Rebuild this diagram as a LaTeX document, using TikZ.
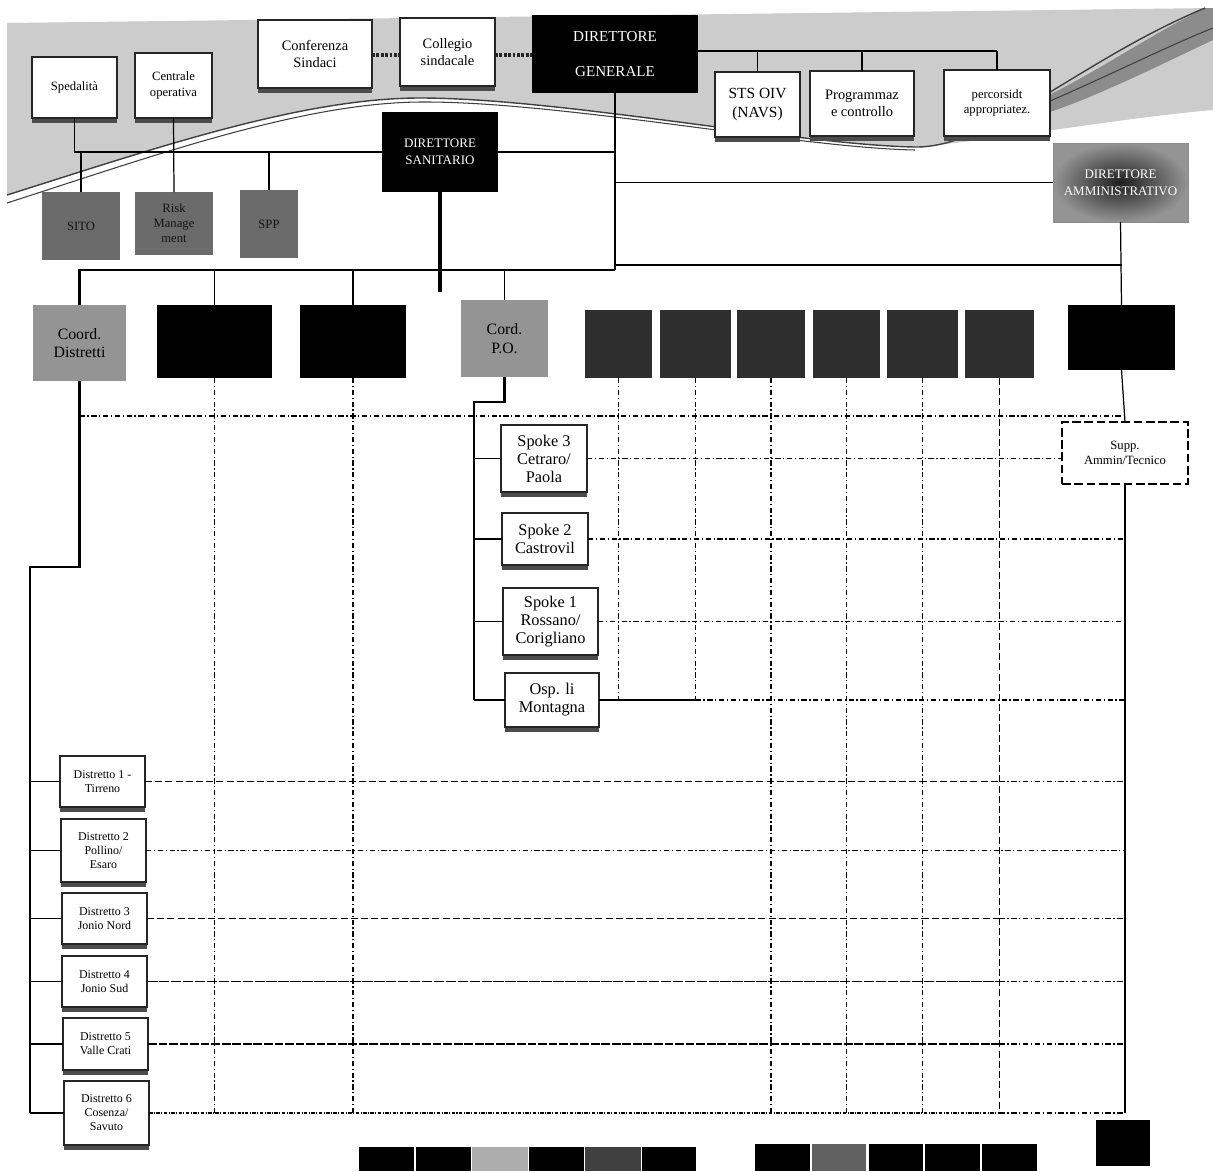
\documentclass[tikz,border=0pt]{standalone}
\usepackage{fontspec}
\setmainfont{Liberation Serif}
\usetikzlibrary{shadows}
\newcommand\szA{\fontsize{7.2}{8.6}\selectfont}
\newcommand\szB{\fontsize{8.2}{10}\selectfont}
\newcommand\szC{\fontsize{8.8}{10.5}\selectfont}
\newcommand\szD{\fontsize{8.6}{10}\selectfont}
\newcommand\szE{\fontsize{7.4}{9.5}\selectfont}
\newcommand\szF{\fontsize{9}{10.5}\selectfont}
\newcommand\szG{\fontsize{9.3}{10.2}\selectfont}
\newcommand\szH{\fontsize{6.8}{8}\selectfont}
\newcommand{\bx}[7]{%
  \pgfmathsetmacro{\bxw}{(#4-#2)*0.02}%
  \pgfmathsetmacro{\bxh}{(#5-#3)*0.02}%
  \node[#6, minimum width=\bxw cm, minimum height=\bxh cm] (#1) at ({(#2+#4)/2},{(#3+#5)/2}) {#7};}
\tikzset{
  base/.style={inner sep=0pt, outer sep=0pt, align=center},
  wbox/.style={base, draw=black!85, line width=0.7pt, fill=white,
    drop shadow={shadow xshift=0.2pt, shadow yshift=-2.6pt, fill=black!70, opacity=1}},
  bbox/.style={base, fill=black, text=white},
  gbox/.style={base, fill=black!58, text=black!92, font=\szA},
  mbox/.style={base, fill=black!42, text=black, font=\szF},
  kbox/.style={base, fill=black},
  dkbox/.style={base, fill=black!82},
  dabox/.style={base, inner color=black!88, outer color=black!42, draw=black!45, text=white, font=\szE},
  sbox/.style={base, fill=white, draw=black, line width=1.6pt, dash pattern=on 5pt off 2pt, font=\szA},
  dist/.style={wbox, font=\szH},
  spk/.style={wbox, font=\szG},
  conn/.style={draw=black, line width=0.7pt},
  thickc/.style={draw=black, line width=1.3pt},
  ddot/.style={draw=black, line width=0.6pt, dash pattern=on 3pt off 1.5pt on 0.7pt off 1.5pt},
  ldash/.style={draw=black, line width=0.75pt, dash pattern=on 4pt off 1.8pt},
  fdot/.style={draw=black, line width=0.8pt, dash pattern=on 2pt off 0.8pt on 0.6pt off 0.8pt},
  dotl/.style={draw=black!85, line width=2.5pt, dash pattern=on 1.6pt off 0.9pt},
  swl/.style={draw=black!75, line width=0.8pt},
}
\begin{document}
\begin{tikzpicture}[x=0.02cm, y=-0.02cm]
\useasboundingbox (0,0) rectangle (1213,1171);
\fill[white] (0,0) rectangle (1213,1171);
% ---- stippled top band
\fill[black!20] (7,23) -- (1213,8) -- (1213,110)
  .. controls (1120,118) and (1000,140) .. (915,147)
  .. controls (800,145) and (560,98) .. (420,98)
  .. controls (300,98) and (150,150) .. (7,195) -- cycle;
\fill[black!45] (1045,97) .. controls (1100,70) and (1150,35) .. (1205,8) -- (1213,8) -- (1213,40)
  .. controls (1160,65) and (1100,95) .. (1050,112) -- cycle;
\draw[swl] (7,195) .. controls (150,150) and (300,98) .. (420,98)
  .. controls (560,98) and (800,145) .. (915,147)
  .. controls (990,148) and (1080,60) .. (1205,8);
\draw[swl, line width=0.6pt] (7,203) .. controls (150,157) and (300,103) .. (420,102)
  .. controls (560,101) and (800,148) .. (915,150);
\draw[swl, line width=0.6pt] (1050,101) .. controls (1110,75) and (1170,45) .. (1213,28);
% ---- coordinates
\coordinate (y51) at (0,51);
\coordinate (y55) at (0,55);
\coordinate (yA) at (0,270);
\coordinate (yB) at (0,265);
\coordinate (y292) at (0,292);
\coordinate (h0) at (0,416);
\coordinate (cdturn) at (30,567);
\coordinate (poturn) at (474,402);
% ---- top nodes
\bx{sped}{32}{57}{117}{118}{wbox, font=\szA}{Spedalità}
\bx{cen}{135}{53}{212}{118}{wbox, font=\szA}{Centrale\\operativa}
\bx{conf}{258}{20}{372}{88}{wbox, font=\szB}{Conferenza\\Sindaci}
\bx{coll}{400}{18}{495}{86}{wbox, font=\szB}{Collegio\\sindacale}
\bx{dg}{532}{15}{698}{93}{bbox, font=\szD}{DIRETTORE\\[10pt]GENERALE}
\bx{sts}{715}{72}{800}{137}{wbox, font=\szC}{STS OIV\\(NAVS)}
\bx{prog}{810}{71}{914}{136}{wbox, font=\szB}{Programmaz\\e controllo}
\bx{perc}{944}{70}{1050}{136}{wbox, font=\szA}{percorsidt\\appropriatez.}
\bx{ds}{382}{112}{498}{192}{bbox, font=\szE}{DIRETTORE\\SANITARIO}
\bx{da}{1053}{143}{1188}{222}{dabox}{DIRETTORE\\AMMINISTRATIVO}
\bx{sito}{42}{192}{120}{260}{gbox}{SITO}
\bx{staff}{135}{192}{213}{255}{gbox}{Risk\\Manage\\ment}
\bx{spp}{240}{190}{298}{258}{gbox}{SPP}
% ---- second row
\bx{cd}{33}{305}{126}{381}{mbox}{Coord.\\Distretti}
\bx{b2}{157}{305}{272}{378}{kbox}{}
\bx{b3}{300}{305}{406}{378}{kbox}{}
\bx{po}{461}{300}{548}{377}{mbox}{Cord.\\P.O.}
\bx{k1}{585}{310}{652}{378}{dkbox}{}
\bx{k2}{660}{310}{731}{378}{dkbox}{}
\bx{k3}{737}{310}{805}{378}{dkbox}{}
\bx{k4}{813}{310}{880}{378}{dkbox}{}
\bx{k5}{887}{310}{958}{378}{dkbox}{}
\bx{k6}{965}{310}{1034}{378}{dkbox}{}
\bx{rb}{1068}{305}{1175}{370}{kbox}{}
% ---- spokes
\bx{sp3}{501}{425}{587}{492}{spk}{Spoke 3\\Cetraro/\\Paola}
\bx{sp2}{502}{513}{588}{565}{spk}{Spoke 2\\Castrovil}
\bx{sp1}{503}{588}{598}{655}{spk}{Spoke 1\\Rossano/\\Corigliano}
\bx{osp}{505}{673}{599}{727}{spk}{Osp. li\\Montagna}
\bx{supp}{1062}{422}{1188}{484}{sbox}{Supp.\\Ammin/Tecnico}
% ---- distretti
\bx{d1}{60}{756}{145}{807}{dist}{Distretto 1 -\\Tirreno}
\bx{d2}{61}{819}{146}{882}{dist}{Distretto 2\\Pollino/\\Esaro}
\bx{d3}{62}{893}{147}{944}{dist}{Distretto 3\\Jonio Nord}
\bx{d4}{62}{956}{147}{1007}{dist}{Distretto 4\\Jonio Sud}
\bx{d5}{63}{1018}{148}{1070}{dist}{Distretto 5\\Valle Crati}
\bx{d6}{64}{1081}{149}{1145}{dist}{Distretto 6\\Cosenza/\\Savuto}
% ---- bottom blocks
\bx{q1}{359}{1147}{414}{1171}{kbox}{}
\bx{q2}{416}{1147}{471}{1171}{kbox}{}
\bx{q3}{472}{1147}{528}{1171}{base, fill=black!32}{}
\bx{q4}{529}{1147}{584}{1171}{kbox}{}
\bx{q5}{585}{1147}{641}{1171}{base, fill=black!75}{}
\bx{q6}{642}{1147}{696}{1171}{kbox}{}
\bx{r1}{755}{1144}{810}{1171}{kbox}{}
\bx{r2}{812}{1144}{866}{1171}{base, fill=black!62}{}
\bx{r3}{869}{1144}{923}{1171}{kbox}{}
\bx{r4}{925}{1144}{980}{1171}{kbox}{}
\bx{r5}{982}{1144}{1037}{1171}{kbox}{}
\bx{s1}{1096}{1120}{1150}{1166}{kbox}{}
% ---- upper connectors
\draw[dotl] (conf.east |- y55) -- (coll.west |- y55);
\draw[dotl] (coll.east |- y55) -- (dg.west |- y55);
\draw[conn] (dg.east |- y51) -- (perc.north |- y51);
\draw[conn] (sts.north) -- (sts.north |- y51);
\draw[conn] (prog.north) -- (prog.north |- y51);
\draw[conn] (perc.north) -- (perc.north |- y51);
\draw[conn] (ds.west) -| (sped.south);
\draw[conn] (sito.north) -- (sito.north |- ds.west);
\draw[conn] (cen.south) -- (staff.north);
\draw[conn] (spp.north) -- (spp.north |- ds.west);
\draw[conn] (ds.east) -- (ds.east -| dg.south);
\draw[conn] (dg.south) -- (dg.south |- yA);
\draw[conn] (dg.south |- da.west) -- (da.west);
\draw[thickc] (cd.north) |- (dg.south |- yA);
\draw[conn] (b2.north) -- (b2.north |- yA);
\draw[conn] (b3.north) -- (b3.north |- yA);
\draw[conn] (po.north) -- (po.north |- yA);
\draw[line width=2.4pt] (ds.south) -- (ds.south |- y292);
\draw[conn] (dg.south |- yB) -- (rb.north |- yB);
\draw[conn] (da.south) -- (rb.north);
\draw[conn] (rb.south) -- (supp.north);
% ---- trees
\draw[thickc] (cd.south) |- (cdturn) -- (cdturn |- d6.west);
\foreach \d in {d1,d2,d3,d4,d5,d6} \draw[conn] (\d.west) -- (\d.west -| cdturn);
\draw[thickc] (po.south) |- (poturn) -- (poturn |- osp.west);
\foreach \s in {sp3,sp2,sp1,osp} \draw[conn] (\s.west) -- (\s.west -| poturn);
% ---- grid
\draw[ddot] (cd.south |- h0) -- (rb.south |- h0);
\draw[ddot] (b2.south) -- (b2.south |- d6.east);
\draw[ddot] (b3.south) -- (b3.south |- d6.east);
\draw[ddot] (k1.south) -- (k1.south |- osp.east);
\draw[ddot] (k2.south) -- (k2.south |- osp.east);
\foreach \k in {k3,k4,k5} \draw[ddot] (\k.south) -- (\k.south |- d6.east);
\draw[ldash] (k6.south) -- (k6.south |- d6.east);
\draw[conn] (supp.south) -- (supp.south |- d6.east);
\draw[ddot] (sp3.east) -- (sp3.east -| supp.west);
\draw[ddot] (sp2.east) -- (sp2.east -| supp.south);
\draw[ddot] (sp1.east) -- (sp1.east -| supp.south);
\draw[conn] (osp.east) -- (osp.east -| k2.south);
\draw[ddot] (osp.east -| k2.south) -- (osp.east -| supp.south);
\draw[ldash] (d1.east) -- (d1.east -| k6.south);
\draw[ddot] (d1.east -| k6.south) -- (d1.east -| supp.south);
\draw[ddot] (d2.east) -- (d2.east -| supp.south);
\draw[ldash] (d3.east) -- (d3.east -| k6.south);
\draw[ddot] (d3.east -| k6.south) -- (d3.east -| supp.south);
\draw[ldash, dash pattern=on 6pt off 0.8pt] (d4.east) -- (d4.east -| k6.south);
\draw[ddot] (d4.east -| k6.south) -- (d4.east -| supp.south);
\draw[ldash, dash pattern=on 5pt off 1pt] (d5.east) -- (d5.east -| k6.south);
\draw[ddot] (d5.east -| k6.south) -- (d5.east -| supp.south);
\draw[fdot] (d6.east) -- (d6.east -| k6.south);
\draw[ddot] (d6.east -| k6.south) -- (d6.east -| supp.south);
\end{tikzpicture}
\end{document}
